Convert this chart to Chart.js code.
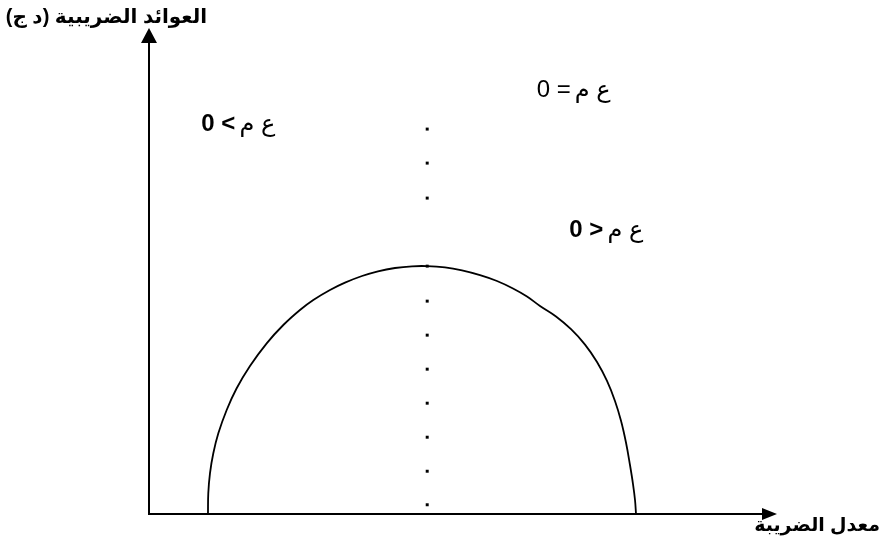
<!DOCTYPE html>
<html>
<head>
<meta charset="utf-8">
<script src="https://cdn.jsdelivr.net/npm/chart.js@4/dist/chart.umd.min.js"></script>
<style>
  html, body { margin: 0; padding: 0; background: #fff; }
  #wrap { width: 882px; height: 543px; position: relative; }
</style>
</head>
<body>
<div id="wrap"><canvas id="laffer"></canvas></div>
<script>
"use strict";

// Laffer curve (x: tax rate, y: tax revenue, 0..100 on each axis)
const taxRate = [9.39, 9.44, 9.71, 10.24, 11.04, 12.37, 13.94, 16.08, 18.74, 21.39,
                 24.04, 26.16, 28.82, 31.21, 33.92, 36.46, 39.17, 41.88, 44.27, 47.13,
                 49.84, 52.71, 55.41, 57.96, 60.19, 62.26, 64.81, 67.20, 69.43, 71.34,
                 72.93, 74.20, 75.16, 75.96, 76.59, 77.07, 77.39, 77.55];
const revenue = [0, 4.26, 8.37, 12.49, 16.60, 21.40, 25.82, 30.45, 35.12, 38.89,
                 41.98, 44.03, 46.09, 47.61, 48.97, 49.94, 50.62, 50.97, 51.01, 50.74,
                 50.12, 49.14, 47.94, 46.40, 44.75, 42.80, 40.64, 38.02, 34.86, 31.28,
                 27.37, 23.25, 19.18, 14.65, 10.08, 6.17, 2.88, 0];

// dotted vertical line at the maximum
const peakRate = 44.3;
const peakDots = [79.2, 72.2, 65.0, 51.0, 43.8, 36.8, 29.8, 22.8, 15.8, 8.8, 1.9];

const xTitle = "معدل الضريبة";
const yTitle = "العوائد الضريبية (د ج)";
const regionLabels = ["ع م > 0", "ع م = 0", "ع م < 0"];

// where each region label sits (right edge, baseline) in axis units
const REGION_POS = [
  { x: 20.1, y: 78.8, tailBold: true },
  { x: 73.5, y: 85.8, tailBold: false },
  { x: 78.7, y: 57.0, tailBold: true },
];

const FONT = '"Liberation Sans", "DejaVu Sans", sans-serif';

const axesPlugin = {
  id: "axes",
  afterDatasetsDraw(chart) {
    const { ctx, chartArea: a } = chart;
    ctx.save();
    ctx.strokeStyle = "#000";
    ctx.fillStyle = "#000";
    ctx.lineWidth = 2;
    ctx.beginPath();
    ctx.moveTo(a.left, a.bottom + 1);
    ctx.lineTo(a.left, a.top + 12);
    ctx.moveTo(a.left - 1, a.bottom);
    ctx.lineTo(a.right - 12, a.bottom);
    ctx.stroke();
    // arrow heads
    ctx.beginPath();
    ctx.moveTo(a.left, a.top);
    ctx.lineTo(a.left - 8, a.top + 15);
    ctx.lineTo(a.left + 8, a.top + 15);
    ctx.closePath();
    ctx.fill();
    ctx.beginPath();
    ctx.moveTo(a.right, a.bottom);
    ctx.lineTo(a.right - 15, a.bottom - 6);
    ctx.lineTo(a.right - 15, a.bottom + 6);
    ctx.closePath();
    ctx.fill();
    ctx.restore();
  },
};

const textPlugin = {
  id: "texts",
  afterDraw(chart) {
    const { ctx, chartArea: a } = chart;
    const xs = chart.scales.x, ys = chart.scales.y;
    ctx.save();
    ctx.fillStyle = "#000";
    ctx.direction = "rtl";
    ctx.textAlign = "right";
    ctx.textBaseline = "alphabetic";

    ctx.font = "bold 20px " + FONT;
    ctx.fillText(yTitle, a.left + 58, a.top - 5);
    ctx.font = "bold 19px " + FONT;
    ctx.fillText(xTitle, 880, a.bottom + 17);

    regionLabels.forEach((txt, i) => {
      const p = REGION_POS[i];
      const m = txt.match(/^(\S+ \S+) (.*)$/);
      const head = m[1], tail = m[2];
      const rx = xs.getPixelForValue(p.x);
      const by = ys.getPixelForValue(p.y);
      ctx.font = "24px " + FONT;
      ctx.fillText(head, rx, by);
      const w = ctx.measureText(head).width + 4;
      ctx.font = (p.tailBold ? "bold " : "") + "24px " + FONT;
      ctx.fillText(tail, rx - w, by);
    });
    ctx.restore();
  },
};

new Chart(document.getElementById("laffer"), {
  type: "scatter",
  data: {
    datasets: [
      {
        data: taxRate.map((x, i) => ({ x, y: revenue[i] })),
        showLine: true,
        borderColor: "#000",
        borderWidth: 1.8,
        pointRadius: 0,
        tension: 0.4,
        clip: false,
      },
      {
        data: peakDots.map(y => ({ x: peakRate, y })),
        pointStyle: "rect",
        pointRadius: 2.1,
        pointBorderWidth: 0,
        backgroundColor: "#000",
        borderColor: "#000",
      },
    ],
  },
  options: {
    responsive: true,
    maintainAspectRatio: false,
    animation: false,
    events: [],
    layout: { padding: { left: 149, right: 105, top: 28, bottom: 29 } },
    scales: {
      x: { type: "linear", min: 0, max: 100, display: false },
      y: { type: "linear", min: 0, max: 100, display: false },
    },
    plugins: { legend: { display: false }, tooltip: { enabled: false } },
  },
  plugins: [axesPlugin, textPlugin],
});
</script>
</body>
</html>
